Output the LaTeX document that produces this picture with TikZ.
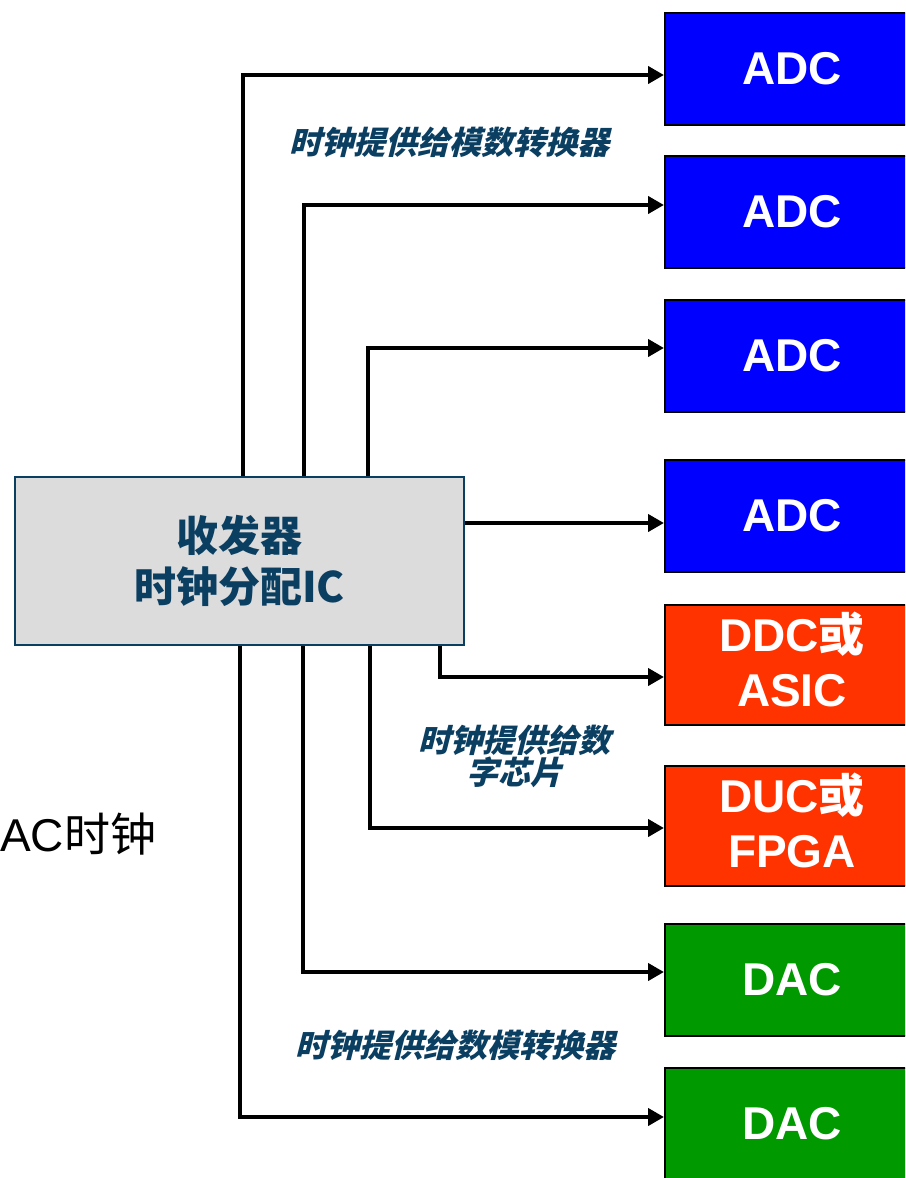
\documentclass[tikz,border=0pt]{standalone}
\usepackage{fontspec}
\usepackage{tikz}
\usetikzlibrary{arrows.meta,positioning}
\setmainfont{Liberation Sans}
\newfontfamily\cjk{Noto Sans CJK SC}
\newfontfamily\cjkslant{Noto Sans CJK SC}[FakeSlant=0.25, BoldFeatures={FakeSlant=0.25}]
\definecolor{ClockNavy}{HTML}{0B3F62}
\definecolor{ClockGray}{HTML}{DCDCDC}
\definecolor{AdcBlue}{HTML}{0000FF}
\definecolor{DigiRed}{HTML}{FF3300}
\definecolor{DacGreen}{HTML}{009900}

\begin{document}
\begin{tikzpicture}[
  x=1pt, y=-1pt,
  chipbox/.style={
    draw=black,
    line width=2pt,
    anchor=west,
    minimum width=254pt,
    minimum height=112pt,
    align=center,
    text=white,
    font=\fontsize{46}{55}\selectfont\bfseries
  },
  adcbox/.style={chipbox, fill=AdcBlue},
  digibox/.style={chipbox, fill=DigiRed, minimum height=120pt, text depth=12pt},
  dacbox/.style={chipbox, fill=DacGreen},
  clkbox/.style={
    draw=ClockNavy,
    fill=ClockGray,
    line width=2pt,
    minimum width=449pt,
    minimum height=168pt,
    align=center,
    text=ClockNavy,
    font=\fontsize{42}{51}\selectfont\cjk\bfseries
  },
  notelabel/.style={text=ClockNavy, align=center, inner sep=0pt,
    font=\fontsize{32}{32}\selectfont\cjkslant\bfseries},
  flowarrow/.style={-{Triangle[length=16pt,width=17pt]}, line width=4pt, draw=black}
]
\useasboundingbox (0,0) rectangle (905,1178);
\clip (0,0) rectangle (905,1178);
\node[clkbox] (ic) at (239.5,561) {收发器\\时钟分配IC};
\node[adcbox] (adc1) at (664,69) {ADC};
\node[adcbox] (adc2) at (664,212) {ADC};
\node[adcbox] (adc3) at (664,356) {ADC};
\node[adcbox] (adc4) at (664,516) {ADC};
\node[digibox] (ddc) at (664,665) {DDC{\cjk 或}\\ASIC};
\node[digibox] (duc) at (664,826) {DUC{\cjk 或}\\FPGA};
\node[dacbox] (dac1) at (664,980) {DAC};
\node[dacbox] (dac2) at (664,1124) {DAC};
\node[notelabel] (adcnote) at (449,142) {时钟提供给模数转换器};
\node[notelabel] (diginote) at (514,756) {时钟提供给数\\字芯片};
\node[notelabel] (dacnote) at (455,1045) {时钟提供给数模转换器};
\node[anchor=west, inner sep=0pt, font=\fontsize{46}{50}\selectfont] (dacclk) at (0,834) {AC{\cjk 时钟}};
\draw[flowarrow] ([xshift=3.5pt]ic.north) |- ([yshift=-6pt]adc1.west);
\draw[flowarrow] ([xshift=64.5pt]ic.north) |- ([yshift=7pt]adc2.west);
\draw[flowarrow] ([xshift=128.5pt]ic.north) |- ([yshift=8pt]adc3.west);
\draw[flowarrow] ([yshift=38pt]ic.east) -- ([yshift=-7pt]adc4.west);
\draw[flowarrow] ([xshift=200.5pt]ic.south) |- ([yshift=-12pt]ddc.west);
\draw[flowarrow] ([xshift=130.5pt]ic.south) |- ([yshift=-2pt]duc.west);
\draw[flowarrow] ([xshift=63.5pt]ic.south) |- ([yshift=8pt]dac1.west);
\draw[flowarrow] ([xshift=0.5pt]ic.south) |- ([yshift=7pt]dac2.west);
\end{tikzpicture}
\end{document}
